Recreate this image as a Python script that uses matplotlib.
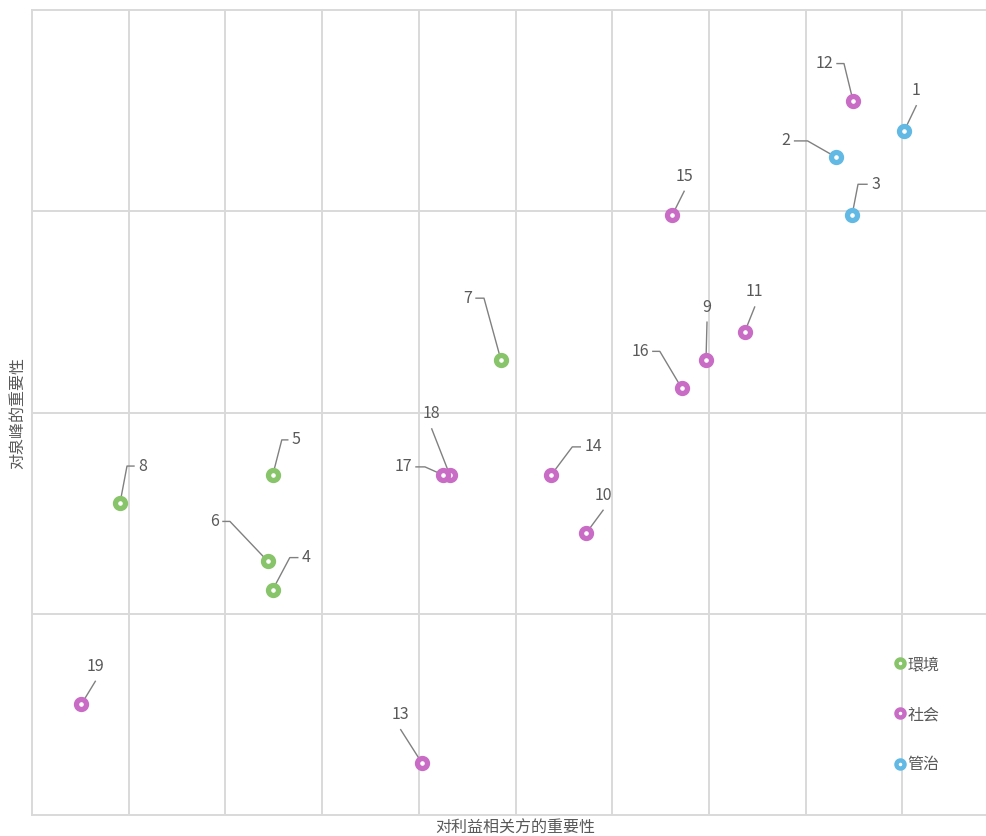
import matplotlib
matplotlib.use("Agg")
import matplotlib.pyplot as plt
from matplotlib.lines import Line2D
from matplotlib.transforms import IdentityTransform

plt.rcParams['font.family'] = ['Noto Sans CJK SC', 'DejaVu Sans']

# ---- data ----
ids = ["1", "2", "3", "12", "15", "11", "9", "16", "7", "18", "17", "14", "10", "5", "8", "6", "4", "19", "13"]
stakeholder = [9.02, 8.31, 8.48, 8.49, 6.62, 7.37, 6.97, 6.72, 4.85, 4.32, 4.25, 5.37, 5.73, 2.49, 0.91, 2.44, 2.49, 0.51, 4.03]
company = [3.40, 3.27, 2.98, 3.55, 2.98, 2.40, 2.26, 2.12, 2.26, 1.69, 1.69, 1.69, 1.40, 1.69, 1.55, 1.26, 1.12, 0.55, 0.26]
category = ["管治", "管治", "管治", "社会", "社会", "社会", "社会", "社会", "環境", "社会", "社会", "社会", "社会",
            "環境", "環境", "環境", "環境", "社会", "社会"]
categories = ["環境", "社会", "管治"]
colors = {"環境": "#88C46A", "社会": "#C86CC6", "管治": "#62B9E4"}
x_label = "对利益相关方的重要性"
y_label = "对泉峰的重要性"

# ---- label leader layout (pixel offsets, image y downward) ----
# (elbow_dx, elbow_dy, tail)
leaders = {
    "1": (12, -25, 0), "2": (-28, -16, -13), "3": (6, -31, 9), "12": (-9, -37, -7),
    "15": (12, -24, 0), "11": (10, -25, 0), "9": (1, -38, 0), "16": (-22, -37, -7),
    "7": (-17, -62, -8), "18": (-18, -46, 0), "17": (-18, -8, -9), "14": (21, -28, 8),
    "10": (17, -23, 0), "5": (9, -35, 6), "8": (7, -37, 7), "6": (-38, -40, -7),
    "4": (17, -32, 8), "19": (14, -23, 0), "13": (-21, -33, 0),
}

W, H = 986, 836
fig = plt.figure(figsize=(W / 100, H / 100), dpi=100)
ax = fig.add_axes([32 / W, (H - 815) / H, (W - 32) / W, (815 - 10) / H])
ax.set_xlim(0, (W - 32) / 96.7)
ax.set_ylim(0, 4)
ax.set_xticks(range(1, 10))
ax.set_yticks([1, 2, 3])
ax.tick_params(length=0, labelbottom=False, labelleft=False)
ax.grid(True, color="#d9d9d9", linewidth=1.4)
ax.set_axisbelow(True)
for s in ["left", "bottom", "top"]:
    ax.spines[s].set_color("#d9d9d9")
    ax.spines[s].set_linewidth(1.4)
ax.spines["right"].set_visible(False)

grey = "#595959"
ident = IdentityTransform()
for i, lab in enumerate(ids):
    c = colors[category[i]]
    ax.plot(stakeholder[i], company[i], "o", ms=7.2, mew=3.8, mfc="white", mec=c, zorder=5)
    px, py = ax.transData.transform((stakeholder[i], company[i]))
    ex, ey, tail = leaders[lab]
    elx, ely = px + ex, py - ey
    xs = [px, elx]
    ys = [py, ely]
    if tail != 0:
        xs.append(elx + tail)
        ys.append(ely)
    ax.add_artist(Line2D(xs, ys, transform=ident, color="#808080", lw=1.0, zorder=4))
    if tail < 0:
        fig.text(elx + tail - 4, ely, lab, transform=ident, ha="right", va="center",
                 fontsize=11.5, color=grey)
    elif tail > 0:
        fig.text(elx + tail + 4, ely, lab, transform=ident, ha="left", va="center",
                 fontsize=11.5, color=grey)
    else:
        fig.text(elx, ely + 15, lab, transform=ident, ha="center", va="center",
                 fontsize=11.5, color=grey)

handles = [Line2D([], [], ls="none", marker="o", ms=5.8, mew=3.2, mfc="white", mec=colors[k]) for k in categories]
leg = ax.legend(handles, categories, loc="upper left", bbox_to_anchor=((894 - 32) / (W - 32), (815 - 656) / 805),
                frameon=False, handlelength=0.7, handletextpad=0.15, labelspacing=2.07, fontsize=11.5,
                borderaxespad=0, borderpad=0)
for t in leg.get_texts():
    t.set_color(grey)

fig.text(515 / W, 1 - 828 / H, x_label, ha="center", va="center", fontsize=11.5, color=grey)
fig.text(18 / W, 1 - 413 / H, y_label, ha="center", va="center", rotation=90, fontsize=11.5, color=grey)

fig.savefig("out.png", dpi=100)
